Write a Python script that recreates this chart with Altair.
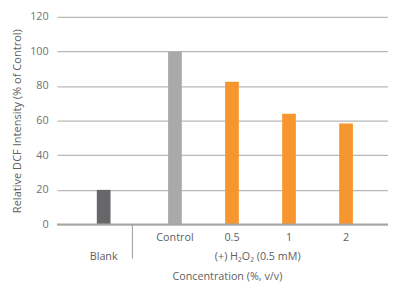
import altair as alt
import pandas as pd

categories = ["Blank", "Control", "0.5", "1", "2"]
values = [20, 100, 82.5, 64, 58.3]
groups = ["blank", "control", "h2o2", "h2o2", "h2o2"]
slots = [0, 1.25, 2.25, 3.25, 4.25]
y_ticks = [0, 20, 40, 60, 80, 100, 120]

df = pd.DataFrame({"cat": categories, "val": values, "grp": groups, "slot": slots})

FONT = "Open Sans"
FS = 11
W, H = 338, 212

xs = alt.Scale(domain=[-0.733, 4.9], nice=False, zero=False)
ys = alt.Scale(domain=[0, 120], nice=False)

base = alt.Chart(df)

bars = base.mark_bar(size=14).encode(
    x=alt.X("slot:Q", scale=xs, axis=None),
    y=alt.Y("val:Q", scale=ys,
            axis=alt.Axis(values=y_ticks, labelOverlap=False,
                          title="Relative DCF Intensity (% of Control)",
                          grid=True, gridColor="#b8b8b8", gridWidth=1.2,
                          domain=False, ticks=False, labelPadding=9,
                          labelColor="#707070", labelFont=FONT, labelFontSize=FS,
                          titleColor="#606060", titleFont=FONT, titleFontSize=11.3,
                          titleFontWeight="normal", titlePadding=7)),
    color=alt.Color("grp:N", scale=alt.Scale(domain=["blank", "control", "h2o2"],
                                             range=["#676769", "#a9a9ac", "#f7962f"]), legend=None),
)

zero = alt.Chart(pd.DataFrame({"z": [0]})).mark_rule(color="#a6a6a6", strokeWidth=2).encode(
    x=alt.value(0), x2=alt.value(W), y=alt.value(H)
)

sep = alt.Chart(pd.DataFrame({"z": [0]})).mark_rule(color="#9a9a9a", strokeWidth=1).encode(
    x=alt.value(77), y=alt.value(H), y2=alt.value(H + 35)
)

top_lbl = base.transform_filter(alt.datum.cat != "Blank").mark_text(
    font=FONT, fontSize=FS, color="#606060", baseline="middle"
).encode(x=alt.X("slot:Q", scale=xs, axis=None), y=alt.value(H + 14), text="cat:N")

blank_lbl = base.transform_filter(alt.datum.cat == "Blank").mark_text(
    font=FONT, fontSize=FS, color="#606060", baseline="middle"
).encode(x=alt.X("slot:Q", scale=xs, axis=None), y=alt.value(H + 33), text="cat:N")

h2o2 = alt.Chart(pd.DataFrame({"t": ["(+) H₂O₂ (0.5 mM)"]})).mark_text(
    font=FONT, fontSize=FS, color="#606060", baseline="middle"
).encode(x=alt.value(205), y=alt.value(H + 33), text="t:N")

xtitle = alt.Chart(pd.DataFrame({"t": ["Concentration (%, v/v)"]})).mark_text(
    font=FONT, fontSize=FS, color="#606060", baseline="middle"
).encode(x=alt.value(174), y=alt.value(H + 54), text="t:N")

chart = alt.layer(bars, zero, sep, top_lbl, blank_lbl, h2o2, xtitle).properties(
    width=W, height=H,
    autosize=alt.AutoSizeParams(type="none"),
    padding={"left": 50, "top": 6, "right": 0, "bottom": 70},
).configure_view(stroke=None)

chart.save("out.html", embed_options={"renderer": "svg", "actions": False})
